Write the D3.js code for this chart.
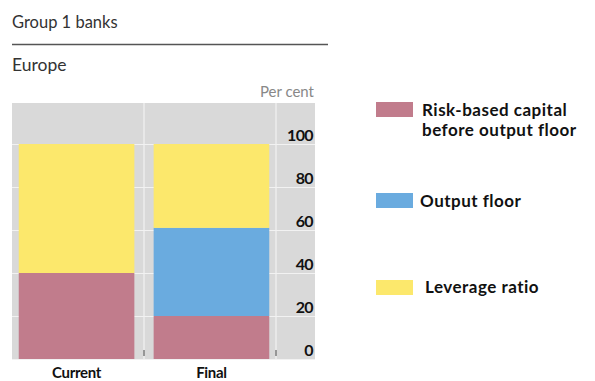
<!DOCTYPE html>
<html>
<head>
<meta charset="utf-8">
<script src="https://cdn.jsdelivr.net/npm/d3@7"></script>
<style>
  body { margin: 0; background: #fff; }
  svg { display: block; font-family: Lato, "Open Sans", sans-serif; }
</style>
</head>
<body>
<div id="chart"></div>
<script>
const categories = ["Current", "Final"];
const seriesNames = ["Risk-based capital before output floor", "Output floor", "Leverage ratio"];
const riskBased = [40, 20];
const outputFloor = [0, 41];
const leverage = [60, 39];
const yTicks = [0, 20, 40, 60, 80, 100];

const colors = ["#c17c8c", "#6aabdf", "#fce86c"];

const width = 595;
const height = 381;

// Panel geometry
const panel = { left: 12, right: 315, top: 103, bottom: 359 };
const axisWidth = 39;

const svg = d3.select("#chart").append("svg").attr("width", width).attr("height", height);

// Header
svg.append("text").attr("x", 12).attr("y", 28).attr("font-size", 16.5).attr("fill", "#333").text("Group 1 banks");
svg.append("line").attr("x1", 12).attr("x2", 328).attr("y1", 44.5).attr("y2", 44.5).attr("stroke", "#555").attr("stroke-width", 1.6);
svg.append("text").attr("x", 12).attr("y", 71).attr("font-size", 17.5).attr("fill", "#333").text("Europe");
svg.append("text").attr("x", panel.right - 1).attr("y", 97).attr("text-anchor", "end").attr("font-size", 15).attr("fill", "#888").text("Per cent");

// Scales
const x = d3.scaleBand().domain(categories).range([panel.left, panel.right - axisWidth]).paddingInner(0.143).paddingOuter(0.05);
const y = d3.scaleLinear().domain([0, 100]).range([panel.bottom, 144]);

// Background
svg.append("rect")
  .attr("x", panel.left).attr("y", panel.top)
  .attr("width", panel.right - panel.left).attr("height", panel.bottom - panel.top)
  .attr("fill", "#d9d9d9");

// Horizontal gridlines
const grid = svg.append("g").attr("transform", `translate(${panel.left},0)`)
  .call(d3.axisRight(y).tickValues(yTicks).tickSize(panel.right - panel.left).tickFormat(""));
grid.select(".domain").remove();
grid.selectAll(".tick line").attr("stroke", "#f2f2f2").attr("stroke-width", 1);

// Vertical separators
const sepX = [x("Final") - x.step() * x.paddingInner() / 2, panel.right - axisWidth];
svg.selectAll(".sep").data(sepX).enter().append("line")
  .attr("x1", (d) => d).attr("x2", (d) => d)
  .attr("y1", panel.top).attr("y2", panel.bottom)
  .attr("stroke", "#f2f2f2").attr("stroke-width", 1.2);

// Stacked bars
const rows = categories.map((c, i) => ({ cat: c, r: riskBased[i], o: outputFloor[i], l: leverage[i] }));
const stack = d3.stack().keys(["r", "o", "l"])(rows);

svg.append("g").selectAll("g").data(stack).enter().append("g")
  .attr("fill", (d, i) => colors[i])
  .selectAll("rect").data((d) => d).enter().append("rect")
  .attr("x", (d) => x(d.data.cat))
  .attr("width", x.bandwidth())
  .attr("y", (d) => y(d[1]))
  .attr("height", (d) => y(d[0]) - y(d[1]));

// Small dark ticks at the bottom of separators
svg.selectAll(".btick").data(sepX).enter().append("line")
  .attr("x1", (d) => d).attr("x2", (d) => d)
  .attr("y1", panel.bottom - 9).attr("y2", panel.bottom - 3)
  .attr("stroke", "#444").attr("stroke-width", 1);

// Y axis labels (sitting above gridlines, right aligned)
const yAxis = svg.append("g").attr("transform", `translate(${panel.right - 2},0)`)
  .call(d3.axisLeft(y).tickValues(yTicks).tickSize(0).tickPadding(0));
yAxis.select(".domain").remove();
yAxis.selectAll(".tick text")
  .attr("dy", "-0.2em")
  .attr("font-size", 16).attr("font-weight", "bold")
  .attr("font-family", "Lato, sans-serif").attr("fill", "#111")
  .attr("letter-spacing", "-0.6");

// X axis labels
const xAxis = svg.append("g").attr("transform", `translate(0,${panel.bottom})`)
  .call(d3.axisBottom(x).tickSize(0).tickPadding(8));
xAxis.select(".domain").remove();
xAxis.selectAll(".tick text")
  .attr("font-size", 15).attr("font-weight", "bold")
  .attr("font-family", "Lato, sans-serif").attr("fill", "#111")
  .attr("letter-spacing", "-0.3");

// Legend
const legend = [
  { lines: ["Risk-based capital", "before output floor"], y: 102, textY: 115.5, tx: 422 },
  { lines: ["Output floor"], y: 193, textY: 207, tx: 420 },
  { lines: ["Leverage ratio"], y: 280, textY: 293, tx: 425 }
];
const lg = svg.append("g");
legend.forEach((d, i) => {
  lg.append("rect").attr("x", 376).attr("y", d.y).attr("width", 37).attr("height", 15).attr("fill", colors[i]);
  const t = lg.append("text").attr("x", d.tx).attr("y", d.textY)
    .attr("font-size", 17).attr("font-weight", "bold").attr("fill", "#111")
    .attr("letter-spacing", "0.5");
  d.lines.forEach((ln, j) => {
    t.append("tspan").attr("x", d.tx).attr("dy", j === 0 ? 0 : 20.5).text(ln);
  });
});
</script>
</body>
</html>
